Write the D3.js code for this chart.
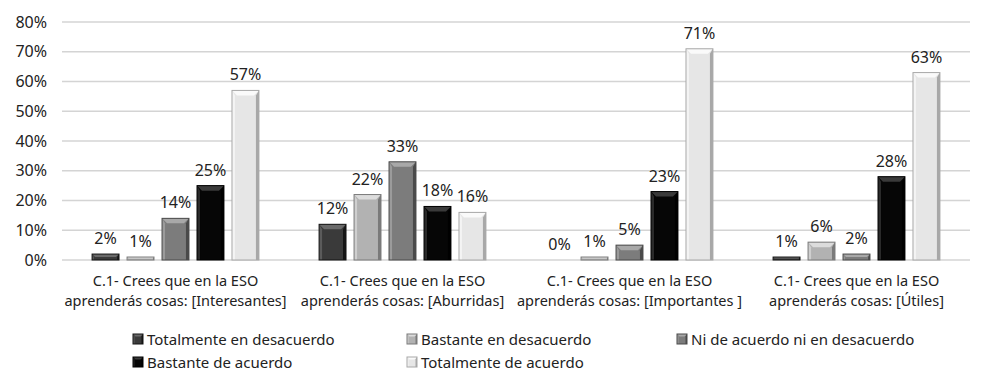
<!DOCTYPE html>
<html>
<head>
<meta charset="utf-8">
<script src="https://cdn.jsdelivr.net/npm/d3@7"></script>
<style>
  body { margin: 0; background: #fff; }
  text { font-family: "Noto Sans", "Open Sans", sans-serif; fill: #222; }
</style>
</head>
<body>
<div id="chart-area"></div>
<script>
let width = 992,
    height = 386;

// data
let categories = [
  ['C.1- Crees que en la ESO', 'aprenderás cosas: [Interesantes]'],
  ['C.1- Crees que en la ESO', 'aprenderás cosas: [Aburridas]'],
  ['C.1- Crees que en la ESO', 'aprenderás cosas: [Importantes ]'],
  ['C.1- Crees que en la ESO', 'aprenderás cosas: [Útiles]']
]
let seriesNames = ['Totalmente en desacuerdo', 'Bastante en desacuerdo', 'Ni de acuerdo ni en desacuerdo',
                   'Bastante de acuerdo', 'Totalmente de acuerdo']
let totDesacuerdo = [2, 12, 0, 1]
let bastDesacuerdo = [1, 22, 1, 6]
let niNi = [14, 33, 5, 2]
let bastAcuerdo = [25, 18, 23, 28]
let totAcuerdo = [57, 16, 71, 63]
let yTicks = [0, 10, 20, 30, 40, 50, 60, 70, 80]

let seriesValues = [totDesacuerdo, bastDesacuerdo, niNi, bastAcuerdo, totAcuerdo]
let colors = ['#3a3a3a', '#b2b2b2', '#7c7c7c', '#060606', '#e6e6e6']
let lights = ['#6a6a6a', '#dcdcdc', '#a8a8a8', '#3a3a3a', '#fafafa']
let darks  = ['#151515', '#7a7a7a', '#4a4a4a', '#000000', '#a8a8a8']

let svg = d3.select('#chart-area').append('svg')
  .attr('width', width)
  .attr('height', height)

let plotLeft = 62, plotRight = 970, plotTop = 22, plotBottom = 260

let x0 = d3.scaleBand()
  .domain(d3.range(categories.length))
  .range([plotLeft, plotRight])

let x1 = d3.scaleBand()
  .domain(d3.range(seriesNames.length))
  .range([0, x0.bandwidth()])
  .paddingInner(0.23)
  .paddingOuter(0.86)

let y = d3.scaleLinear()
  .domain([0, 80])
  .range([plotBottom, plotTop])

// grid
svg.selectAll('.grid')
  .data(yTicks)
  .enter().append('line')
  .attr('x1', plotLeft).attr('x2', plotRight)
  .attr('y1', d => y(d)).attr('y2', d => y(d))
  .attr('stroke', '#d4d4d4')
  .attr('stroke-width', 1.6)

svg.selectAll('.ylab')
  .data(yTicks)
  .enter().append('text')
  .attr('x', 47)
  .attr('y', d => y(d) + 5.5)
  .attr('text-anchor', 'end')
  .attr('font-size', 16)
  .text(d => d + '%')

// bevelled bar
function drawBar(g, x, yTop, w, h, s) {
  if (h < 0.5) return
  let b = Math.min(5, h / 2, w / 4)
  g.append('rect')
    .attr('x', x).attr('y', yTop).attr('width', w).attr('height', h)
    .attr('fill', colors[s])
  // top facet
  g.append('path')
    .attr('d', `M${x},${yTop}L${x + w},${yTop}L${x + w - b},${yTop + b}L${x + b},${yTop + b}Z`)
    .attr('fill', lights[s])
  // left facet
  g.append('path')
    .attr('d', `M${x},${yTop}L${x + b * 0.6},${yTop + b}L${x + b * 0.6},${yTop + h}L${x},${yTop + h}Z`)
    .attr('fill', lights[s]).attr('opacity', 0.7)
  // right facet
  g.append('path')
    .attr('d', `M${x + w},${yTop}L${x + w - b * 0.6},${yTop + b}L${x + w - b * 0.6},${yTop + h}L${x + w},${yTop + h}Z`)
    .attr('fill', darks[s])
  g.append('rect')
    .attr('x', x).attr('y', yTop).attr('width', w).attr('height', h)
    .attr('fill', 'none').attr('stroke', darks[s]).attr('stroke-width', 1)
}

let groups = svg.selectAll('.group')
  .data(categories)
  .enter().append('g')
  .attr('transform', (d, i) => 'translate(' + x0(i) + ',0)')

groups.each(function(c, ci) {
  let g = d3.select(this)
  seriesValues.forEach((vals, s) => {
    let v = vals[ci]
    let bx = x1(s)
    drawBar(g, bx, y(v), x1.bandwidth(), y(0) - y(v), s)
    g.append('text')
      .attr('x', bx + x1.bandwidth() / 2)
      .attr('y', y(v) - 10)
      .attr('text-anchor', 'middle')
      .attr('font-size', 16)
      .text(v + '%')
  })
  g.append('text')
    .attr('x', x0.bandwidth() / 2)
    .attr('y', 286)
    .attr('text-anchor', 'middle')
    .attr('font-size', 14.5)
    .text(c[0])
  g.append('text')
    .attr('x', x0.bandwidth() / 2)
    .attr('y', 306)
    .attr('text-anchor', 'middle')
    .attr('font-size', 14.5)
    .text(c[1])
})

// legend
let legendPos = [[133, 339], [407, 339], [677, 339], [133, 362], [407, 362]]
let legend = svg.selectAll('.legend')
  .data(seriesNames)
  .enter().append('g')
  .attr('transform', (d, i) => 'translate(' + legendPos[i][0] + ',' + legendPos[i][1] + ')')

legend.each(function(d, i) {
  let g = d3.select(this)
  drawBar(g, 0, -5, 10, 10, i)
  g.append('text')
    .attr('x', 14)
    .attr('y', 5.5)
    .attr('font-size', 15)
    .text(d)
})
</script>
</body>
</html>
